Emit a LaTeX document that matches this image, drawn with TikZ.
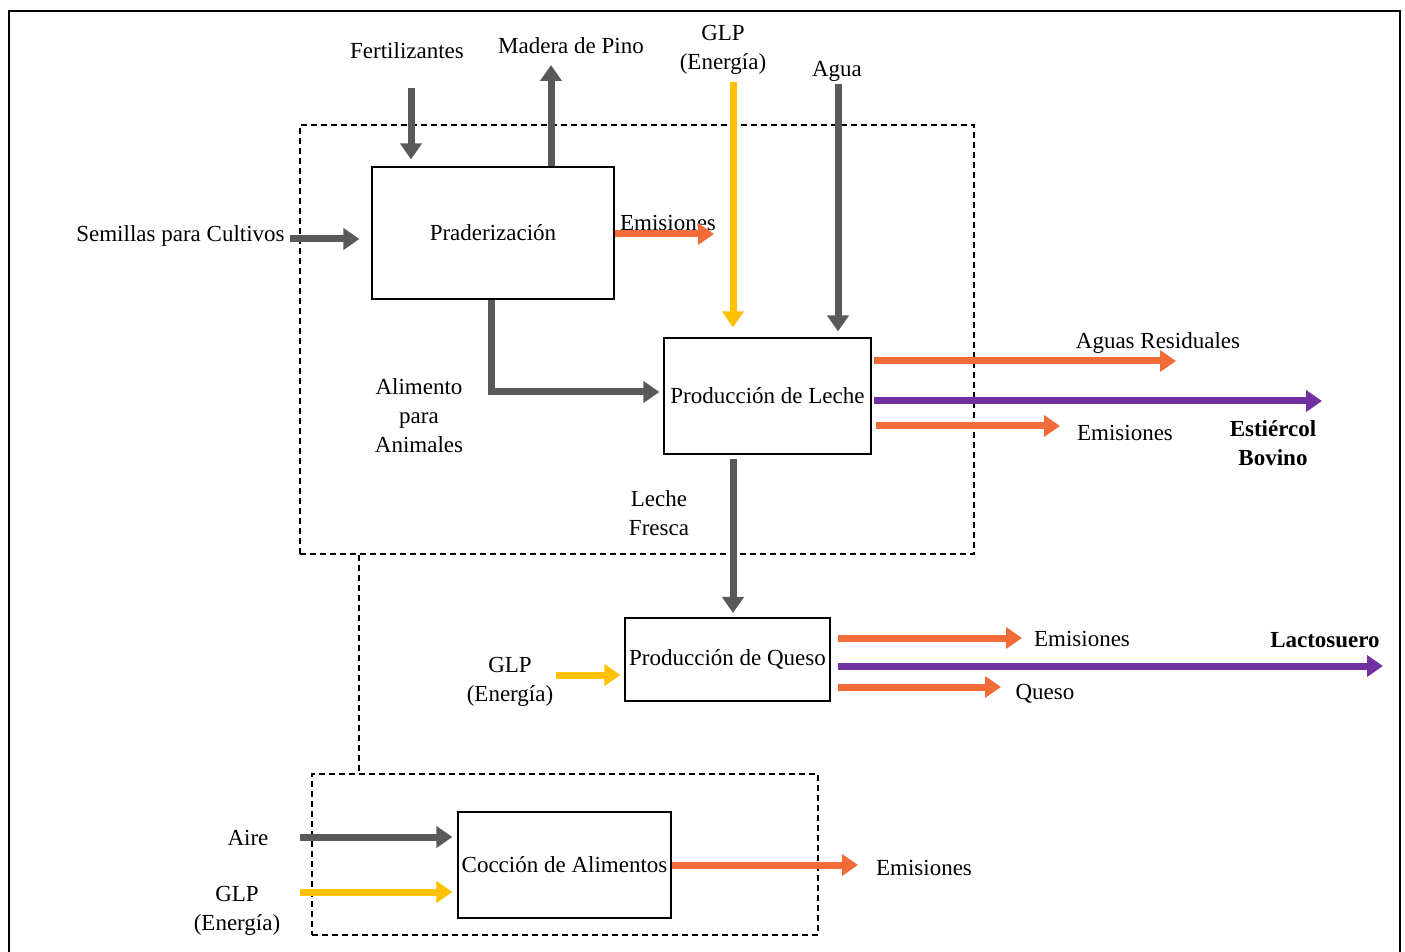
\documentclass[tikz,border=0pt]{standalone}
\usepackage{fontspec}
\setmainfont{Liberation Serif}
\usepackage{xcolor}
\usepackage{tikz}
\usetikzlibrary{arrows.meta}

\definecolor{gris}{HTML}{595959}
\definecolor{amarillo}{HTML}{FFC000}
\definecolor{naranja}{HTML}{F26C3A}
\definecolor{morado}{HTML}{7030A0}

\begin{document}
\begin{tikzpicture}[x=0.5pt,y=-0.5pt,font=\fontsize{11.5}{14.5}\selectfont,
                    flow/.style={line width=3.5pt,-{Triangle[length=8pt,width=10.5pt]}}]
  \tikzstyle{proceso}=[draw=black, line width=0.6pt, fill=white, inner sep=0pt, align=center]
  \tikzstyle{grupo}=[draw=black, line width=0.6pt, dash pattern=on 3pt off 2pt, inner sep=0pt]
  \tikzstyle{etiqueta}=[inner sep=1pt, align=center]
  \useasboundingbox (0,0) rectangle (1405,952);
  \draw[line width=1.2pt] (9,960) -- (9,11) -- (1400,11) -- (1400,960);

  % subsistemas
  \node[grupo, minimum width=337pt, minimum height=214.5pt] (G1) at (637,339.5) {};
  \node[grupo, minimum width=253pt, minimum height=80.5pt]  (G2) at (565,854.5) {};
  \coordinate (d) at (359,0);
  \draw[line width=0.6pt, dash pattern=on 3pt off 2pt] (G1.south -| d) -- (G2.north -| d);

  % procesos
  \node[proceso, minimum width=121pt,   minimum height=66pt]   (P) at (493,233)     {Praderizaci\'on};
  \node[proceso, minimum width=103.5pt, minimum height=58pt]   (L) at (767.5,396)   {Producci\'on de Leche};
  \node[proceso, minimum width=102.5pt, minimum height=41.5pt] (Q) at (727.5,659.5) {Producci\'on de Queso};
  \node[proceso, minimum width=106.5pt, minimum height=53pt]   (C) at (564.5,865)   {Cocci\'on de Alimentos};

  % etiquetas
  \node[etiqueta] (fert)  at (407,51)   {Fertilizantes};
  \node[etiqueta] (mad)   at (571,46)   {Madera de Pino};
  \node[etiqueta] (glp1)  at (723,50)   {GLP\\(Energ\'ia)};
  \node[etiqueta] (agua)  at (837,71)   {Agua};
  \node[etiqueta, anchor=east] (sem) at (287,236) {Semillas para Cultivos};
  \node[etiqueta] (emi1)  at (668,223)  {Emisiones};
  \node[etiqueta] (ali)   at (419,416)  {Alimento\\para\\Animales};
  \node[etiqueta] (res)   at (1158,343) {Aguas Residuales};
  \node[etiqueta] (emi2)  at (1125,433) {Emisiones};
  \node[etiqueta, font=\fontsize{11.5}{14.5}\selectfont\bfseries] (est) at (1273,443) {Esti\'ercol\\Bovino};
  \node[etiqueta] (fre)   at (659,513)  {Leche\\Fresca};
  \node[etiqueta] (glp2)  at (510,682)  {GLP\\(Energ\'ia)};
  \node[etiqueta] (emi3)  at (1082,639) {Emisiones};
  \node[etiqueta, font=\fontsize{11.5}{14.5}\selectfont\bfseries] (lac) at (1325,640) {Lactosuero};
  \node[etiqueta] (que)   at (1045,694) {Queso};
  \node[etiqueta] (aire)  at (248,838)  {Aire};
  \node[etiqueta] (glp3)  at (237,911)  {GLP\\(Energ\'ia)};
  \node[etiqueta] (emi4)  at (924,868)  {Emisiones};

  % extremos libres de los flujos
  \coordinate (f)  at (411,88);
  \coordinate (m)  at (551,65);
  \coordinate (g1) at (733,82);
  \coordinate (a)  at (838,84);
  \coordinate (s)  at (290,239);
  \coordinate (e1) at (714,234);
  \coordinate (ar) at (1176,361);
  \coordinate (eb) at (1322,401);
  \coordinate (e2) at (1060,426);
  \coordinate (lf) at (733,613);
  \coordinate (g2) at (556,675);
  \coordinate (e3) at (1022,638);
  \coordinate (ls) at (1383,666);
  \coordinate (qs) at (1001,687);
  \coordinate (ai) at (300,837);
  \coordinate (g3) at (300,892);
  \coordinate (e4) at (858,865);

  % flujos
  \draw[flow, gris, shorten >=3.5pt] (f) -- (f |- P.north);
  \draw[flow, gris] (m |- P.north) -- (m);
  \draw[flow, amarillo, shorten >=5pt] (g1) -- (g1 |- L.north);
  \draw[flow, gris, shorten >=3pt] (a) -- (a |- L.north);
  \draw[flow, gris, shorten >=6pt] (s) -- (s -| P.west);
  \draw[flow, naranja] (e1 -| P.east) -- (e1);
  \draw[flow, gris, shorten >=2pt] ([xshift=-1pt]P.south) |- ([yshift=2pt]L.west);
  \draw[flow, naranja, shorten <=1pt] (ar -| L.east) -- (ar);
  \draw[flow, morado, shorten <=1pt] (eb -| L.east) -- (eb);
  \draw[flow, naranja, shorten <=2pt] (e2 -| L.east) -- (e2);
  \draw[flow, gris, shorten <=2pt] (lf |- L.south) -- (lf);
  \draw[flow, amarillo, shorten >=2pt] (g2) -- (g2 -| Q.west);
  \draw[flow, naranja, shorten <=3.5pt] (e3 -| Q.east) -- (e3);
  \draw[flow, morado, shorten <=3.5pt] (ls -| Q.east) -- (ls);
  \draw[flow, naranja, shorten <=3.5pt] (qs -| Q.east) -- (qs);
  \draw[flow, gris, shorten >=2.5pt] (ai) -- (ai -| C.west);
  \draw[flow, amarillo, shorten >=2.5pt] (g3) -- (g3 -| C.west);
  \draw[flow, naranja] (e4 -| C.east) -- (e4);
\end{tikzpicture}
\end{document}
